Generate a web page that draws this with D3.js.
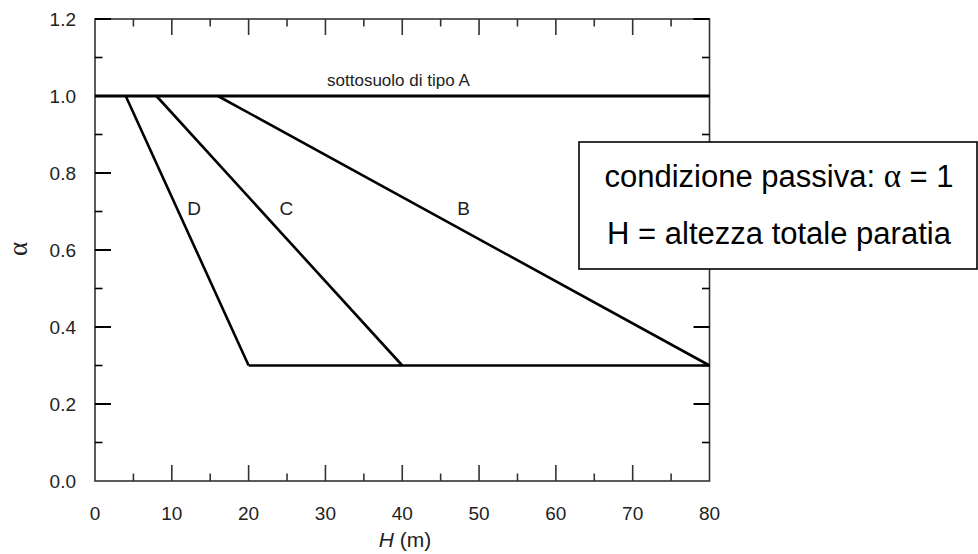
<!DOCTYPE html>
<html>
<head>
<meta charset="utf-8">
<script src="https://cdn.jsdelivr.net/npm/d3@7"></script>
<style>
  body { margin: 0; background: #fff; }
  text { font-family: "Liberation Sans", Arial, sans-serif; fill: #222; }
</style>
</head>
<body>
<svg id="chart" width="978" height="554"></svg>
<script>
// Reduction factor alpha versus wall height H, per subsoil class
const xTicks = [0, 10, 20, 30, 40, 50, 60, 70, 80];
const yTicks = [0.0, 0.2, 0.4, 0.6, 0.8, 1.0, 1.2];
const classNames = ["B", "C", "D"];
const startH = [16, 8, 4];      // H where alpha starts dropping from 1
const endH = [80, 40, 20];      // H where alpha reaches its floor
const alphaTop = 1.0;
const alphaFloor = 0.3;
const labelPos = [[48, 0.69], [24.9, 0.69], [12.9, 0.69]];  // class label positions (H, alpha)
const noteLines = [["condizione passiva: ", "\u03b1", " = 1"], ["H = altezza totale paratia"]];

const svg = d3.select("#chart");
const x = d3.scaleLinear().domain([0, 80]).range([95, 709.5]);
const y = d3.scaleLinear().domain([0, 1.2]).range([481, 19]);

const axisColor = "#333";
const g = svg.append("g");

// Frame
g.append("rect")
  .attr("x", x(0)).attr("y", y(1.2))
  .attr("width", x(80) - x(0)).attr("height", y(0) - y(1.2))
  .attr("fill", "none").attr("stroke", axisColor).attr("stroke-width", 1.6);

// Inward ticks on all four sides
const xMinor = d3.range(0, 81, 5);
const yMinor = d3.range(0, 13).map(d => d / 10);
const major = 16, minor = 7.5;

xMinor.forEach(v => {
  const len = v % 10 === 0 ? major : minor;
  if (v === 0 || v === 80) return;
  g.append("line").attr("x1", x(v)).attr("x2", x(v))
    .attr("y1", y(0)).attr("y2", y(0) - len)
    .attr("stroke", axisColor).attr("stroke-width", 1.6);
  g.append("line").attr("x1", x(v)).attr("x2", x(v))
    .attr("y1", y(1.2)).attr("y2", y(1.2) + len)
    .attr("stroke", axisColor).attr("stroke-width", 1.6);
});
yMinor.forEach(v => {
  const isMajor = Math.round(v * 10) % 2 === 0;
  const len = isMajor ? major : minor;
  if (Math.round(v * 10) === 0) return;
  g.append("line").attr("x1", x(0)).attr("x2", x(0) + len)
    .attr("y1", y(v)).attr("y2", y(v))
    .attr("stroke", "#000").attr("stroke-width", isMajor ? 2 : 1.6);
  g.append("line").attr("x1", x(80)).attr("x2", x(80) - len)
    .attr("y1", y(v)).attr("y2", y(v))
    .attr("stroke", "#000").attr("stroke-width", isMajor ? 2 : 1.6);
});

// Tick labels
g.selectAll(".xl").data(xTicks).enter().append("text")
  .attr("x", d => x(d)).attr("y", 520)
  .attr("text-anchor", "middle").attr("font-size", 19)
  .text(d => d);
g.selectAll(".yl").data(yTicks).enter().append("text")
  .attr("x", 76).attr("y", d => y(d) + 7)
  .attr("text-anchor", "end").attr("font-size", 19)
  .text(d => d.toFixed(1));

// Axis titles
const xt = g.append("text").attr("x", 405).attr("y", 547)
  .attr("text-anchor", "middle").attr("font-size", 21);
xt.append("tspan").attr("font-style", "italic").text("H");
xt.append("tspan").text(" (m)");
g.append("text")
  .attr("transform", `translate(27, 249) rotate(-90)`)
  .attr("text-anchor", "middle").attr("font-size", 27)
  .style("font-family", "'Liberation Serif', serif")
  .text("\u03b1");

// Subsoil class A: alpha = 1 everywhere
const line = d3.line().x(d => x(d[0])).y(d => y(d[1]));
g.append("path")
  .attr("d", line([[0, alphaTop], [80, alphaTop]]))
  .attr("stroke", "#000").attr("stroke-width", 3).attr("fill", "none");
g.append("text").attr("x", x(39.5)).attr("y", 86)
  .attr("text-anchor", "middle").attr("font-size", 17)
  .text("sottosuolo di tipo A");

// Classes B, C, D: linear drop from 1 to the floor
classNames.forEach((n, i) => {
  g.append("path")
    .attr("d", line([[startH[i], alphaTop], [endH[i], alphaFloor]]))
    .attr("stroke", "#000").attr("stroke-width", 2.6).attr("fill", "none");
  g.append("text").attr("x", x(labelPos[i][0])).attr("y", 215)
    .attr("text-anchor", "middle").attr("font-size", 19).text(n);
});
// Common floor alpha = 0.3
g.append("path")
  .attr("d", line([[d3.min(endH), alphaFloor], [80, alphaFloor]]))
  .attr("stroke", "#000").attr("stroke-width", 2.6).attr("fill", "none");

// Note box
const box = svg.append("g");
box.append("rect").attr("x", 579).attr("y", 142)
  .attr("width", 398).attr("height", 127)
  .attr("fill", "#fff").attr("stroke", "#000").attr("stroke-width", 1.6);
noteLines.forEach((parts, i) => {
  const t = box.append("text").attr("x", 779).attr("y", 187 + i * 57)
    .attr("text-anchor", "middle").attr("font-size", 31)
    .style("fill", "#000");
  parts.forEach(p => {
    const s = t.append("tspan").text(p);
    if (p === "\u03b1") s.style("font-family", "'Liberation Serif', serif").attr("font-size", 33);
  });
});
</script>
</body>
</html>
